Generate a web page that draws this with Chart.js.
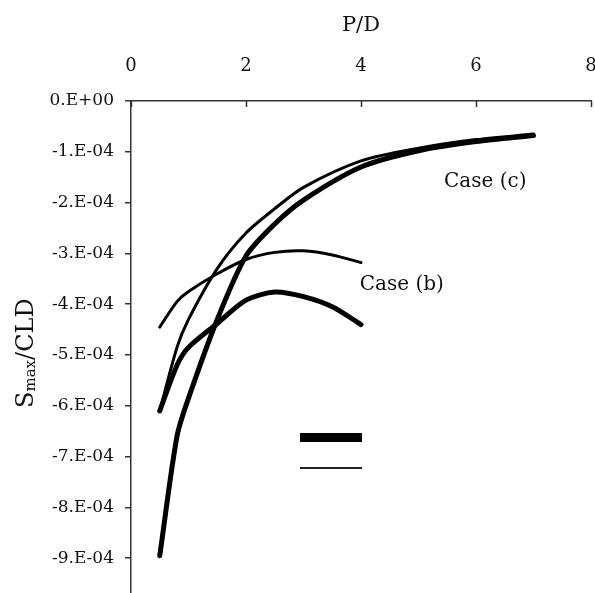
<!DOCTYPE html>
<html>
<head>
<meta charset="utf-8">
<script src="https://cdn.jsdelivr.net/npm/chart.js@4/dist/chart.umd.min.js"></script>
<style>
  html, body { margin: 0; padding: 0; background: #fff; overflow: hidden; }
  canvas { display: block; }
</style>
</head>
<body>
<canvas id="chart" width="595" height="620"></canvas>
<script>
// axis ticks
const pdTicks = [0, 2, 4, 6, 8];
const smaxTicks = [0, -1e-4, -2e-4, -3e-4, -4e-4, -5e-4, -6e-4, -7e-4, -8e-4, -9e-4, -1e-3];

// Case (c): two curves
const caseCThickPD = [0.5, 0.8, 1, 1.5, 2, 2.5, 3, 4, 5, 6, 7];
const caseCThickS = [-8.95e-4, -6.6e-4, -5.85e-4, -4.3e-4, -3.05e-4, -2.42e-4, -1.95e-4, -1.3e-4, -0.98e-4, -0.8e-4, -0.68e-4];
const caseCThinPD = [0.5, 0.8, 1, 1.5, 2, 2.5, 3, 4, 5, 6, 7];
const caseCThinS = [-6.1e-4, -4.85e-4, -4.3e-4, -3.3e-4, -2.6e-4, -2.12e-4, -1.7e-4, -1.18e-4, -0.93e-4, -0.76e-4, -0.65e-4];

// Case (b): two curves
const caseBThickPD = [0.5, 0.8, 1, 1.5, 2, 2.5, 3, 3.5, 4];
const caseBThickS = [-6.1e-4, -5.2e-4, -4.85e-4, -4.38e-4, -3.92e-4, -3.76e-4, -3.85e-4, -4.05e-4, -4.4e-4];
const caseBThinPD = [0.5, 0.8, 1, 1.5, 2, 2.5, 3, 3.5, 4];
const caseBThinS = [-4.45e-4, -3.95e-4, -3.75e-4, -3.4e-4, -3.12e-4, -2.98e-4, -2.95e-4, -3.03e-4, -3.18e-4];

const serif = "'DejaVu Serif', 'Liberation Serif', serif";
const ink = '#111';

// Excel-style scientific labels: 0.E+00, -1.E-04
function sciLabel(v) {
  const [m, e] = Number(v).toExponential(0).split('e');
  const exp = parseInt(e, 10);
  return m + '.E' + (exp < 0 ? '-' : '+') + String(Math.abs(exp)).padStart(2, '0');
}

function pts(xs, ys) {
  return xs.map((x, i) => ({ x: x, y: ys[i] }));
}

function curve(xs, ys, width) {
  return {
    data: pts(xs, ys),
    borderColor: '#000',
    borderWidth: width,
    borderCapStyle: 'round',
    borderJoinStyle: 'round',
    pointRadius: 0,
    tension: 0.28,
    fill: false
  };
}

// extras: inward ticks on the top axis, y title with subscript, case labels, legend keys
const extras = {
  id: 'extras',
  afterDraw(chart) {
    const ctx = chart.ctx;
    const xs = chart.scales.x;
    const ys = chart.scales.y;
    const top = chart.chartArea.top;
    ctx.save();

    ctx.strokeStyle = '#333';
    ctx.lineWidth = 1.5;
    pdTicks.forEach(t => {
      const px = Math.round(xs.getPixelForValue(t)) + 0.5;
      ctx.beginPath();
      ctx.moveTo(px, top);
      ctx.lineTo(px, top + 6);
      ctx.stroke();
    });

    // Smax/CLD, rotated
    ctx.save();
    ctx.translate(33, 408);
    ctx.rotate(-Math.PI / 2);
    ctx.fillStyle = ink;
    ctx.textBaseline = 'alphabetic';
    ctx.textAlign = 'left';
    let cx = 0;
    ctx.font = '24px ' + serif;
    ctx.fillText('S', cx, 0);
    cx += ctx.measureText('S').width;
    ctx.font = '15px ' + serif;
    ctx.fillText('max', cx, 2);
    cx += ctx.measureText('max').width;
    ctx.font = '24px ' + serif;
    ctx.fillText('/CLD', cx, 0);
    ctx.restore();

    // curve labels
    ctx.fillStyle = ink;
    ctx.font = '20px ' + serif;
    ctx.textAlign = 'center';
    ctx.textBaseline = 'middle';
    ctx.fillText('Case (c)', xs.getPixelForValue(6.16), ys.getPixelForValue(-1.6e-4));
    ctx.fillText('Case (b)', xs.getPixelForValue(4.71), ys.getPixelForValue(-3.62e-4));

    // legend keys
    ctx.fillStyle = '#000';
    ctx.fillRect(300, 433, 62, 9);
    ctx.fillStyle = '#222';
    ctx.fillRect(300, 467, 62, 2);

    ctx.restore();
  }
};

new Chart(document.getElementById('chart'), {
  type: 'line',
  data: {
    datasets: [
      curve(caseCThickPD, caseCThickS, 5),
      curve(caseCThinPD, caseCThinS, 3),
      curve(caseBThickPD, caseBThickS, 5),
      curve(caseBThinPD, caseBThinS, 3)
    ]
  },
  options: {
    responsive: false,
    animation: false,
    devicePixelRatio: 1,
    layout: { padding: { left: 0, right: 4, top: 3, bottom: 11 } },
    plugins: { legend: { display: false }, tooltip: { enabled: false } },
    scales: {
      x: {
        type: 'linear',
        position: 'top',
        min: 0,
        max: 8,
        afterBuildTicks: s => { s.ticks = pdTicks.map(v => ({ value: v })); },
        afterFit: s => { s.height = 98; s.paddingLeft = 0; s.paddingRight = 0; },
        grid: { display: true, drawOnChartArea: false, drawTicks: false },
        border: { color: '#333', width: 1.5 },
        ticks: { color: ink, font: { family: serif, size: 18 }, padding: 24, maxRotation: 0 },
        title: { display: true, text: 'P/D', color: ink, font: { family: serif, size: 21 }, padding: { top: 10, bottom: 0 } }
      },
      y: {
        type: 'linear',
        min: -1e-3,
        max: 0,
        afterBuildTicks: s => { s.ticks = smaxTicks.map(v => ({ value: v })); },
        afterFit: s => { s.width = 131; s.paddingTop = 0; s.paddingBottom = 0; },
        grid: { display: true, drawOnChartArea: false, drawTicks: true, tickLength: 6, color: '#333', lineWidth: 1.5 },
        border: { color: '#333', width: 1.5 },
        ticks: { color: ink, font: { family: serif, size: 17 }, padding: 11, callback: v => sciLabel(v) }
      }
    }
  },
  plugins: [extras]
});
</script>
</body>
</html>
